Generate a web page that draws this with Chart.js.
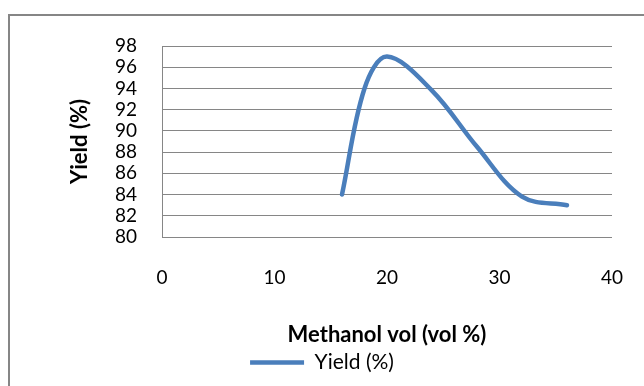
<!DOCTYPE html>
<html>
<head>
<meta charset="utf-8">
<script src="https://cdn.jsdelivr.net/npm/chart.js@4.4.0/dist/chart.umd.min.js"></script>
<style>
  html, body { margin: 0; padding: 0; background: #fff; }
  #wrap { width: 644px; height: 386px; position: relative; }
</style>
</head>
<body>
<div id="wrap"><canvas id="myChart" width="644" height="386"></canvas></div>
<script>
// datos
const methanolVol = [16, 18, 20, 24, 28, 32, 36];
const yieldPct = [84, 94, 97, 93.8, 88.5, 83.8, 83];
const xTicks = [0, 10, 20, 30, 40];
const yTicks = [80, 82, 84, 86, 88, 90, 92, 94, 96, 98];

const gris = '#868686';
const azul = '#4a7ebb';
const fuente = 'Lato, Calibri, sans-serif';

// marco gris del area del grafico (estilo Excel)
const marco = {
    id: 'marco',
    beforeDraw(chart) {
        const ctx = chart.ctx;
        ctx.save();
        ctx.strokeStyle = gris;
        ctx.lineWidth = 2;
        ctx.beginPath();
        ctx.moveTo(9, chart.height + 5);
        ctx.lineTo(9, 15);
        ctx.lineTo(chart.width + 5, 15);
        ctx.stroke();
        ctx.restore();
    }
};

const ctx = document.getElementById('myChart').getContext('2d');
new Chart(ctx, {
    type: 'scatter',
    data: {
        datasets: [{
            label: 'Yield (%)',
            data: methanolVol.map((x, i) => ({ x: x, y: yieldPct[i] })),
            showLine: true,
            borderColor: azul,
            backgroundColor: azul,
            borderWidth: 4.5,
            borderCapStyle: 'round',
            tension: 0.35,
            pointRadius: 0,
            pointHoverRadius: 0
        }]
    },
    options: {
        responsive: false,
        animation: false,
        layout: { padding: { top: 46, right: 0, left: 0, bottom: 3 } },
        plugins: {
            tooltip: { enabled: false },
            legend: {
                position: 'bottom',
                labels: {
                    usePointStyle: true,
                    pointStyle: 'line',
                    pointStyleWidth: 54,
                    padding: 4,
                    color: '#000',
                    font: { family: fuente, size: 21 }
                }
            }
        },
        scales: {
            x: {
                type: 'linear',
                min: 0,
                max: 40,
                afterBuildTicks: (s) => { s.ticks = xTicks.map(v => ({ value: v })); },
                afterFit: (s) => { s.height = 111; s.paddingLeft = 0; s.paddingRight = 32; },
                grid: { display: false, drawTicks: false },
                border: { display: false },
                ticks: { padding: 29, autoSkip: false, maxRotation: 0, color: '#000', font: { family: fuente, size: 19 } },
                title: {
                    display: true,
                    text: 'Methanol vol (vol %)',
                    color: '#000',
                    padding: { top: 0, bottom: 0 },
                    font: { family: fuente, size: 22, weight: 'bold' }
                }
            },
            y: {
                min: 80,
                max: 98,
                afterBuildTicks: (s) => { s.ticks = yTicks.map(v => ({ value: v })); },
                afterFit: (s) => { s.width = 162; s.paddingTop = 0; s.paddingBottom = 0; },
                grid: { color: gris, lineWidth: 1, drawTicks: false },
                border: { display: true, color: gris, width: 1 },
                ticks: { padding: 25, autoSkip: false, color: '#000', font: { family: fuente, size: 19 } },
                title: {
                    display: true,
                    text: 'Yield (%)',
                    color: '#000',
                    padding: { top: 67, bottom: 0 },
                    font: { family: fuente, size: 22, weight: 'bold' }
                }
            }
        }
    },
    plugins: [marco]
});
</script>
</body>
</html>
